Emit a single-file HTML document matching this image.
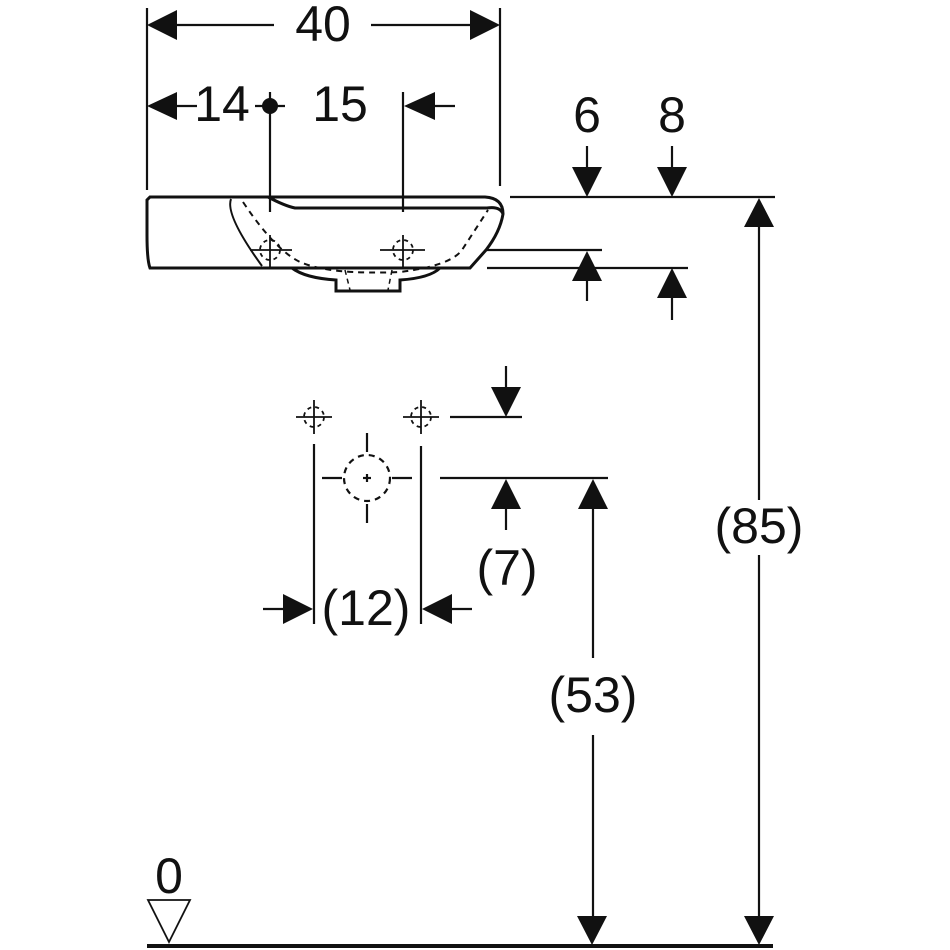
<!DOCTYPE html>
<html><head><meta charset="utf-8"><style>html,body{margin:0;padding:0;background:#fff}svg{display:block}</style></head>
<body>
<svg width="950" height="950" viewBox="0 0 950 950" xmlns="http://www.w3.org/2000/svg" font-family="Liberation Sans, sans-serif" fill="#111">
<g stroke="#111" stroke-width="2.2" fill="none">
<line x1="147" y1="8" x2="147" y2="190"/>
<line x1="500" y1="8" x2="500" y2="186"/>
<line x1="177" y1="25" x2="274" y2="25"/>
<line x1="371" y1="25" x2="470" y2="25"/>
<line x1="177" y1="106" x2="197" y2="106"/>
<line x1="255" y1="106" x2="285" y2="106"/>
<line x1="270" y1="92" x2="270" y2="212"/>
<line x1="403" y1="92" x2="403" y2="212"/>
<line x1="435" y1="106" x2="455" y2="106"/>
<line x1="510" y1="197" x2="775" y2="197"/>
<line x1="487" y1="250" x2="602" y2="250"/>
<line x1="487" y1="268" x2="688" y2="268"/>
<line x1="587" y1="146" x2="587" y2="170"/>
<line x1="672" y1="146" x2="672" y2="170"/>
<line x1="587" y1="280" x2="587" y2="301"/>
<line x1="672" y1="298" x2="672" y2="320"/>
<line x1="759" y1="227" x2="759" y2="500"/>
<line x1="759" y1="555" x2="759" y2="918"/>
<line x1="314" y1="444" x2="314" y2="624"/>
<line x1="421" y1="446" x2="421" y2="624"/>
<line x1="450" y1="417" x2="522" y2="417"/>
<line x1="506" y1="366" x2="506" y2="390"/>
<line x1="440" y1="478" x2="608" y2="478"/>
<line x1="506" y1="507" x2="506" y2="530"/>
<line x1="263" y1="609" x2="285" y2="609"/>
<line x1="450" y1="609" x2="472" y2="609"/>
<line x1="593" y1="507" x2="593" y2="658"/>
<line x1="593" y1="735" x2="593" y2="918"/>
<circle cx="367" cy="478" r="23" stroke-dasharray="6,5"/>
<line x1="367" y1="433" x2="367" y2="452"/>
<line x1="367" y1="504" x2="367" y2="523"/>
<line x1="322" y1="478" x2="342" y2="478"/>
<line x1="392" y1="478" x2="412" y2="478"/>
<line x1="363" y1="478" x2="371" y2="478"/><line x1="367" y1="474" x2="367" y2="482"/>
<g stroke-width="1.8">
<line x1="296" y1="417" x2="332" y2="417"/><line x1="314" y1="400" x2="314" y2="434"/>
<circle cx="314" cy="417" r="10" stroke-dasharray="4,4"/>
<line x1="403" y1="417" x2="439" y2="417"/><line x1="421" y1="400" x2="421" y2="434"/>
<circle cx="421" cy="417" r="10" stroke-dasharray="4,4"/>
</g>
<path d="M150 197 L485 197 Q503 198 503 214 Q500 232 486 250 L470 268 L150 268 Q147 260 147 235 L147 200 Z" stroke-width="3"/>
<path d="M268 197 Q285 206 295 208 L487 208 Q500 206 503 214" stroke-width="3"/>
<path d="M231 199 Q225 215 262 266" stroke-width="2"/>
<path d="M292 268 Q305 278 336 280 L336 291 L400 291 L400 280 Q430 278 440 268" stroke-width="3"/>
<path d="M243 202 Q275 250 300 262 Q330 275 400 272 Q450 266 462 250 L488 210" stroke-dasharray="6,5" stroke-width="2"/>
<path d="M345 270 L350 290 M392 270 L388 290" stroke-dasharray="5,4" stroke-width="1.5"/>
<g stroke-width="1.8">
<line x1="250" y1="250" x2="292" y2="250"/><line x1="270" y1="235" x2="270" y2="268"/>
<circle cx="270" cy="250" r="10" stroke-dasharray="4,4"/>
<line x1="380" y1="250" x2="425" y2="250"/><line x1="403" y1="235" x2="403" y2="268"/>
<circle cx="403" cy="250" r="10" stroke-dasharray="4,4"/>
</g>
<line x1="147" y1="946" x2="773" y2="946" stroke-width="4"/>
<path d="M148 900 L190 900 L169 942 Z" stroke-width="1.8"/>
</g>
<g stroke="none" fill="#111">
<path d="M147 25 L177 10 L177 40 Z"/>
<path d="M500 25 L470 10 L470 40 Z"/>
<path d="M147 106 L177 92 L177 120 Z"/>
<path d="M404 106 L435 92 L435 120 Z"/>
<circle cx="270" cy="106" r="8"/>
<path d="M587 197 L572 167 L602 167 Z"/>
<path d="M672 197 L657 167 L687 167 Z"/>
<path d="M587 251 L572 281 L602 281 Z"/>
<path d="M672 268 L657 298 L687 298 Z"/>
<path d="M759 198 L744 227 L774 227 Z"/>
<path d="M759 945 L744 916 L774 916 Z"/>
<path d="M592 945 L577 916 L607 916 Z"/>
<path d="M506 417 L491 387 L521 387 Z"/>
<path d="M506 479 L491 509 L521 509 Z"/>
<path d="M593 479 L578 509 L608 509 Z"/>
<path d="M313 609 L283 594 L283 624 Z"/>
<path d="M422 609 L452 594 L452 624 Z"/>
</g>
<g font-size="50" text-anchor="middle">
<text x="323" y="41">40</text>
<text x="222" y="121">14</text>
<text x="340" y="121">15</text>
<text x="587" y="132">6</text>
<text x="672" y="132">8</text>
<text x="759" y="543">(85)</text>
<text x="507" y="585">(7)</text>
<text x="366" y="625">(12)</text>
<text x="593" y="712">(53)</text>
<text x="169" y="893">0</text>
</g>
</svg>
</body></html>
